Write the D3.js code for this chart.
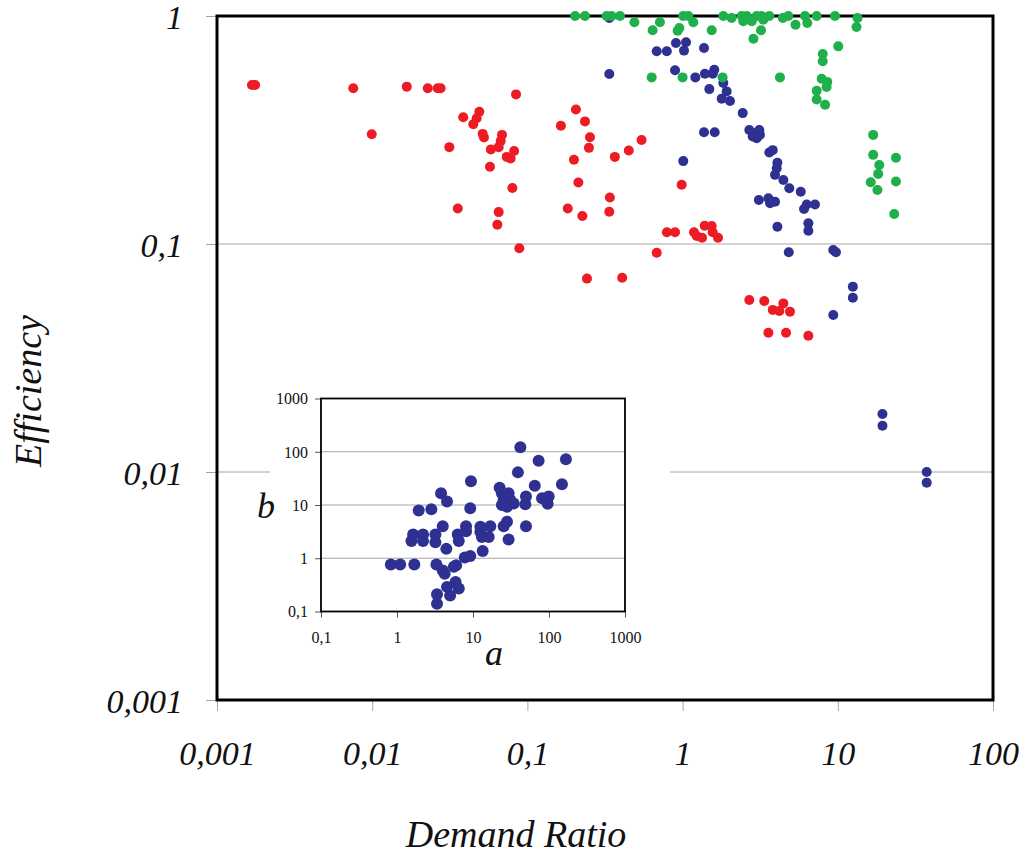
<!DOCTYPE html>
<html>
<head>
<meta charset="utf-8">
<script src="https://cdn.jsdelivr.net/npm/d3@7"></script>
<style>
  body { margin: 0; background: #fff; }
  svg { display: block; font-family: "Liberation Serif", "Times New Roman", serif; }
</style>
</head>
<body>
<div id="chart"></div>
<script>
// CONSTANTS
const WIDTH = 1024;
const HEIGHT = 857;

// main plot values
const xTicks = [0.001, 0.01, 0.1, 1, 10, 100];
const xTickLabels = ["0,001", "0,01", "0,1", "1", "10", "100"];
const yTicks = [0.001, 0.01, 0.1, 1];
const yTickLabels = ["0,001", "0,01", "0,1", "1"];
const yGrid = [0.01, 0.1];

const redRatio = [0.00168, 0.00176, 0.00755, 0.00993, 0.0167, 0.0228, 0.0264, 0.0276, 0.0845, 0.0314,
  0.0386, 0.049, 0.0471, 0.0448, 0.0515, 0.0525, 0.0686, 0.0673, 0.0653, 0.0582,
  0.0821, 0.0736, 0.078, 0.0574, 0.08, 0.0356, 0.0653, 0.064, 0.0887, 0.2055,
  0.1644, 0.235, 0.253, 0.249, 0.1995, 0.366, 0.45, 0.544, 0.213, 0.986,
  0.34, 0.337, 0.182, 0.226, 0.792, 0.894, 1.184, 1.233, 1.334, 1.388,
  1.54, 1.563, 1.691, 0.681, 0.242, 0.408, 2.69, 3.36, 3.81, 4.2,
  4.46, 4.92, 3.57, 4.64, 6.46];
const redEff = [0.498, 0.498, 0.482, 0.303, 0.49, 0.482, 0.482, 0.482, 0.453, 0.266,
  0.36, 0.38, 0.356, 0.335, 0.304, 0.293, 0.301, 0.283, 0.266, 0.26,
  0.256, 0.241, 0.237, 0.218, 0.176, 0.143, 0.138, 0.1216, 0.0958, 0.389,
  0.33, 0.345, 0.294, 0.264, 0.234, 0.241, 0.257, 0.286, 0.186, 0.182,
  0.16, 0.1386, 0.143, 0.1327, 0.1125, 0.1125, 0.1125, 0.1084, 0.1066, 0.1203,
  0.12, 0.1125, 0.1066, 0.0916, 0.0705, 0.0711, 0.0568, 0.0562, 0.0514, 0.0508,
  0.0549, 0.0505, 0.0408, 0.0408, 0.0396];

const blueRatio = [0.337, 0.337, 0.681, 0.791, 0.906, 1.052, 1.021, 1.374, 0.894, 1.208,
  1.393, 1.6, 1.565, 1.829, 1.486, 1.923, 1.786, 2.02, 2.44, 1.374,
  1.61, 1.01, 2.69, 2.86, 3.12, 3.0, 3.15, 2.83, 3.62, 3.81,
  4.08, 4.04, 3.94, 4.46, 4.87, 5.77, 3.1, 3.57, 3.66, 3.94,
  6.31, 7.13, 6.06, 4.08, 6.46, 6.46, 4.83, 9.35, 9.73, 9.35,
  12.5, 12.5, 19.4, 19.4, 37.4, 37.4];
const blueEff = [0.98, 0.557, 0.7, 0.7, 0.761, 0.767, 0.705, 0.724, 0.578, 0.538,
  0.558, 0.581, 0.558, 0.508, 0.478, 0.467, 0.434, 0.424, 0.375, 0.309,
  0.309, 0.231, 0.316, 0.306, 0.316, 0.291, 0.301, 0.296, 0.252, 0.258,
  0.227, 0.215, 0.201, 0.191, 0.1755, 0.1696, 0.156, 0.1586, 0.151, 0.1533,
  0.149, 0.149, 0.1424, 0.119, 0.1232, 0.1144, 0.092, 0.0941, 0.092, 0.0488,
  0.065, 0.0581, 0.01796, 0.01596, 0.01, 0.00898];

const greenRatio = [0.203, 0.235, 0.324, 0.349, 0.395, 0.489, 0.714, 0.641, 0.953, 0.929,
  1.01, 1.088, 1.172, 1.54, 1.83, 2.07, 2.4, 2.46, 2.59, 2.79,
  3.0, 3.24, 3.31, 3.62, 3.2, 2.86, 4.42, 4.8, 5.34, 6.15,
  6.36, 7.31, 9.59, 13.4, 13.2, 10.07, 8.0, 8.0, 0.632, 1.0,
  1.81, 4.24, 7.87, 8.55, 8.47, 7.31, 7.31, 8.28, 16.9, 16.9,
  23.7, 18.5, 18.2, 16.3, 18.0, 23.7, 23.1];
const greenEff = [1, 1, 1, 1, 1, 0.938, 0.938, 0.866, 0.886, 0.862,
  1, 1, 0.938, 0.866, 1, 0.98, 1, 0.948, 1, 0.948,
  1, 1, 0.963, 1, 0.866, 0.795, 0.98, 1, 0.916, 1,
  0.932, 1, 1, 0.98, 0.895, 0.736, 0.681, 0.633, 0.538, 0.538,
  0.538, 0.538, 0.531, 0.514, 0.488, 0.47, 0.43, 0.408, 0.301, 0.246,
  0.239, 0.222, 0.203, 0.1866, 0.1725, 0.188, 0.1355];

// inset values
const insetTicks = [0.1, 1, 10, 100, 1000];
const insetTickLabels = ["0,1", "1", "10", "100", "1000"];
const insetGrid = [1, 10, 100];
const insetA = [42, 73, 167, 39, 9.4, 65, 148, 22.4, 3.8, 4.55,
  9.2, 1.93, 2.83, 24, 29.4, 25.3, 31, 24, 28, 34.3,
  49.8, 48.8, 26.6, 81, 99, 96, 4.0, 8.1, 8.1, 12.5,
  16.9, 13.1, 16.1, 12.5, 25.3, 28, 49.8, 29.4, 1.63, 2.2,
  1.55, 2.2, 3.2, 3.2, 6.3, 6.5, 4.46, 13.4, 7.8, 9.2,
  0.83, 1.1, 1.69, 3.3, 4.0, 4.24, 5.6, 6.0, 5.9, 6.5,
  4.55, 5.0, 3.36, 3.36];
const insetB = [122, 68, 72, 41, 28, 23, 24.5, 21, 16.6, 11.6,
  8.65, 7.9, 8.3, 16.6, 16.6, 12.4, 12.4, 10, 9.3, 10.7,
  14.4, 10.3, 15.4, 13.4, 14.4, 10.6, 4.0, 4.0, 3.2, 3.9,
  4.0, 2.5, 2.5, 3.1, 4.0, 4.85, 4.0, 2.25, 2.8, 2.8,
  2.1, 2.1, 2.8, 2.0, 2.8, 2.1, 1.5, 1.37, 1.03, 1.1,
  0.76, 0.76, 0.76, 0.76, 0.59, 0.51, 0.69, 0.74, 0.36, 0.27,
  0.29, 0.2, 0.21, 0.14];

const RED = "#ed1c24";
const BLUE = "#2e3192";
const GREEN = "#1fb04c";
const GRID = "#a6a6a6";
const SERIF = "Liberation Serif, Times New Roman, serif";

const svg = d3.select("#chart")
  .append("svg")
  .attr("width", WIDTH)
  .attr("height", HEIGHT);

// MAIN PLOT
const plot = { left: 217, right: 993, top: 16, bottom: 700 };
const x = d3.scaleLog().domain([0.001, 100]).range([plot.left, plot.right]);
const y = d3.scaleLog().domain([0.001, 1]).range([plot.bottom, plot.top]);

svg.append("g")
  .selectAll("line")
  .data(yGrid)
  .enter()
  .append("line")
  .attr("x1", plot.left)
  .attr("x2", plot.right)
  .attr("y1", d => y(d))
  .attr("y2", d => y(d))
  .attr("stroke", GRID)
  .attr("stroke-width", 1);

const xAxis = svg.append("g")
  .attr("transform", `translate(0,${plot.bottom})`)
  .call(d3.axisBottom(x).tickValues(xTicks).tickSize(11).tickFormat((d, i) => xTickLabels[i]));
xAxis.select(".domain").remove();
xAxis.selectAll("line").attr("stroke", GRID);
xAxis.selectAll("text")
  .attr("y", 65)
  .attr("dy", null)
  .attr("font-size", 34)
  .attr("font-style", "italic")
  .attr("font-family", SERIF)
  .attr("fill", "#111");

const yAxis = svg.append("g")
  .attr("transform", `translate(${plot.left},0)`)
  .call(d3.axisLeft(y).tickValues(yTicks).tickSize(11).tickFormat((d, i) => yTickLabels[i]));
yAxis.select(".domain").remove();
yAxis.selectAll("line").attr("stroke", GRID);
yAxis.selectAll("text")
  .attr("x", -34)
  .attr("dy", "0.36em")
  .attr("font-size", 34)
  .attr("font-style", "italic")
  .attr("font-family", SERIF)
  .attr("fill", "#111");

// inset background hides the main grid
const inset = { left: 321, right: 625, top: 398.5, bottom: 611.5 };
svg.append("rect")
  .attr("x", 270)
  .attr("y", 385)
  .attr("width", 400)
  .attr("height", 305)
  .attr("fill", "#fff");

svg.append("rect")
  .attr("x", plot.left)
  .attr("y", plot.top)
  .attr("width", plot.right - plot.left)
  .attr("height", plot.bottom - plot.top)
  .attr("fill", "none")
  .attr("stroke", "black")
  .attr("stroke-width", 3);

const drawDots = (xs, ys, color, r) => {
  svg.append("g")
    .selectAll("circle")
    .data(xs.map((v, i) => [v, ys[i]]))
    .enter()
    .append("circle")
    .attr("cx", d => x(d[0]))
    .attr("cy", d => y(d[1]))
    .attr("r", r)
    .attr("fill", color);
};
drawDots(redRatio, redEff, RED, 5);
drawDots(blueRatio, blueEff, BLUE, 5);
drawDots(greenRatio, greenEff, GREEN, 5);

svg.append("text")
  .attr("x", 516)
  .attr("y", 847)
  .attr("text-anchor", "middle")
  .attr("font-size", 38)
  .attr("font-style", "italic")
  .attr("fill", "#111")
  .text("Demand Ratio");

svg.append("text")
  .attr("transform", "translate(41,391) rotate(-90)")
  .attr("text-anchor", "middle")
  .attr("font-size", 38)
  .attr("font-style", "italic")
  .attr("fill", "#111")
  .text("Efficiency");

// INSET
const ix = d3.scaleLog().domain([0.1, 1000]).range([inset.left, inset.right]);
const iy = d3.scaleLog().domain([0.1, 1000]).range([inset.bottom, inset.top]);

svg.append("g")
  .selectAll("line")
  .data(insetGrid)
  .enter()
  .append("line")
  .attr("x1", inset.left)
  .attr("x2", inset.right)
  .attr("y1", d => iy(d))
  .attr("y2", d => iy(d))
  .attr("stroke", GRID)
  .attr("stroke-width", 1);

const ixAxis = svg.append("g")
  .attr("transform", `translate(0,${inset.bottom})`)
  .call(d3.axisBottom(ix).tickValues(insetTicks).tickSize(6).tickFormat((d, i) => insetTickLabels[i]));
ixAxis.select(".domain").remove();
ixAxis.selectAll("line").attr("stroke", "#555");
ixAxis.selectAll("text")
  .attr("y", 31)
  .attr("dy", null)
  .attr("font-size", 16)
  .attr("font-family", SERIF)
  .attr("fill", "#111");

const iyAxis = svg.append("g")
  .attr("transform", `translate(${inset.left},0)`)
  .call(d3.axisLeft(iy).tickValues(insetTicks).tickSize(6).tickFormat((d, i) => insetTickLabels[i]));
iyAxis.select(".domain").remove();
iyAxis.selectAll("line").attr("stroke", "#555");
iyAxis.selectAll("text")
  .attr("x", -13)
  .attr("dy", "0.33em")
  .attr("font-size", 16)
  .attr("font-family", SERIF)
  .attr("fill", "#111");

svg.append("rect")
  .attr("x", inset.left)
  .attr("y", inset.top)
  .attr("width", inset.right - inset.left)
  .attr("height", inset.bottom - inset.top)
  .attr("fill", "none")
  .attr("stroke", "black")
  .attr("stroke-width", 1.8);

svg.append("g")
  .selectAll("circle")
  .data(insetA.map((v, i) => [v, insetB[i]]))
  .enter()
  .append("circle")
  .attr("cx", d => ix(d[0]))
  .attr("cy", d => iy(d[1]))
  .attr("r", 6)
  .attr("fill", BLUE);

svg.append("text")
  .attr("x", 494)
  .attr("y", 665)
  .attr("text-anchor", "middle")
  .attr("font-size", 36)
  .attr("font-style", "italic")
  .attr("fill", "#111")
  .text("a");

svg.append("text")
  .attr("x", 266)
  .attr("y", 518)
  .attr("text-anchor", "middle")
  .attr("font-size", 36)
  .attr("font-style", "italic")
  .attr("fill", "#111")
  .text("b");
</script>
</body>
</html>
